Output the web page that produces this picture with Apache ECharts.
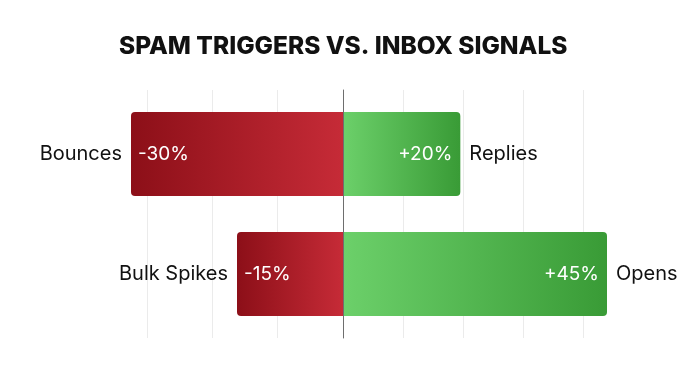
<!DOCTYPE html>
<html><head><meta charset="utf-8">
<script src="https://cdn.jsdelivr.net/npm/echarts@6/dist/echarts.min.js"></script>
<style>html,body{margin:0;padding:0;background:#fff}#c{width:700px;height:370px}</style>
</head><body><div id="c"></div>
<script>
const chartTitle = 'SPAM TRIGGERS VS. INBOX SIGNALS';
const rows = ['row1', 'row2'];
const triggerNames = ['Bounces', 'Bulk Spikes'];
const triggerValues = [-30, -15];
const signalNames = ['Replies', 'Opens'];
const signalValues = [20, 45];
const triggerRange = [-30, 0];
const signalRange = [0, 45];
const gridTicksLeft = [-30, 0, 10];
const gridTicksRight = [0, 40, 10];

const FONT = 'Inter, Lato, "Noto Sans", sans-serif';
const chart = echarts.init(document.getElementById('c'), null, {renderer: 'canvas'});
const redGrad = new echarts.graphic.LinearGradient(0, 0, 1, 0, [
  {offset: 0, color: '#8c0f18'}, {offset: 1, color: '#c62b37'}]);
const greenGrad = new echarts.graphic.LinearGradient(0, 0, 1, 0, [
  {offset: 0, color: '#6cd06a'}, {offset: 1, color: '#399b36'}]);

const hidden = {axisLabel: {show: false}, axisTick: {show: false}, axisLine: {show: false}, splitLine: {show: false}};

chart.setOption({
  backgroundColor: '#ffffff',
  animation: false,
  title: {
    text: chartTitle, left: 119, top: 34, padding: 0,
    textStyle: {fontFamily: FONT, fontSize: 24.5, fontWeight: 800, color: '#111'}
  },
  grid: [
    {left: 131, width: 212, top: 94, bottom: 36},      // trigger bars
    {left: 343, width: 264, top: 94, bottom: 36},      // signal bars
    {left: 147, width: 196, top: 90, bottom: 32},      // background grid lines, left half
    {left: 343, width: 240, top: 90, bottom: 32}       // background grid lines, right half
  ],
  xAxis: [
    Object.assign({type: 'value', gridIndex: 0, min: triggerRange[0], max: triggerRange[1]}, hidden),
    Object.assign({type: 'value', gridIndex: 1, min: signalRange[0], max: signalRange[1]}, hidden),
    {type: 'value', gridIndex: 2, min: gridTicksLeft[0], max: gridTicksLeft[1], interval: gridTicksLeft[2],
      axisLabel: {show: false}, axisTick: {show: false}, axisLine: {show: false},
      splitLine: {show: true, showMaxLine: false, lineStyle: {color: '#ebebeb', width: 1}}},
    {type: 'value', gridIndex: 3, min: gridTicksRight[0], max: gridTicksRight[1], interval: gridTicksRight[2],
      axisLabel: {show: false}, axisTick: {show: false}, axisLine: {show: false},
      splitLine: {show: true, showMinLine: false, lineStyle: {color: '#ebebeb', width: 1}}}
  ],
  yAxis: [
    Object.assign({type: 'category', gridIndex: 0, data: rows, inverse: true}, hidden),
    Object.assign({type: 'category', gridIndex: 1, data: rows, inverse: true}, hidden),
    Object.assign({type: 'category', gridIndex: 2, data: rows, inverse: true}, hidden),
    {type: 'category', gridIndex: 3, data: rows, inverse: true, z: 10,
      axisLabel: {show: false}, axisTick: {show: false}, splitLine: {show: false},
      axisLine: {show: true, onZero: true, lineStyle: {color: '#6e6e6e', width: 1}}}
  ],
  series: [
    {
      type: 'bar', xAxisIndex: 0, yAxisIndex: 0, data: triggerValues, barWidth: 84, z: 2,
      itemStyle: {color: redGrad, borderRadius: [4, 0, 0, 4]},
      label: {show: true, position: 'insideLeft', distance: 7, color: '#fff', fontFamily: FONT, fontSize: 19,
        formatter: p => p.value + '%'}
    },
    {
      type: 'bar', xAxisIndex: 1, yAxisIndex: 1, data: signalValues, barWidth: 84, z: 2,
      itemStyle: {color: greenGrad, borderRadius: [0, 4, 4, 0]},
      label: {show: true, position: 'insideRight', distance: 8, color: '#fff', fontFamily: FONT, fontSize: 19,
        formatter: p => '+' + p.value + '%'}
    },
    {
      type: 'bar', xAxisIndex: 0, yAxisIndex: 0, data: triggerValues, barWidth: 84, barGap: '-100%', silent: true, z: 1,
      itemStyle: {color: 'rgba(0,0,0,0)'},
      label: {show: true, position: 'left', distance: 9, color: '#111', fontFamily: FONT, fontSize: 20,
        formatter: p => triggerNames[p.dataIndex]}
    },
    {
      type: 'bar', xAxisIndex: 1, yAxisIndex: 1, data: signalValues, barWidth: 84, barGap: '-100%', silent: true, z: 1,
      itemStyle: {color: 'rgba(0,0,0,0)'},
      label: {show: true, position: 'right', distance: 9, color: '#111', fontFamily: FONT, fontSize: 20,
        formatter: p => signalNames[p.dataIndex]}
    }
  ]
});
</script>
</body></html>
